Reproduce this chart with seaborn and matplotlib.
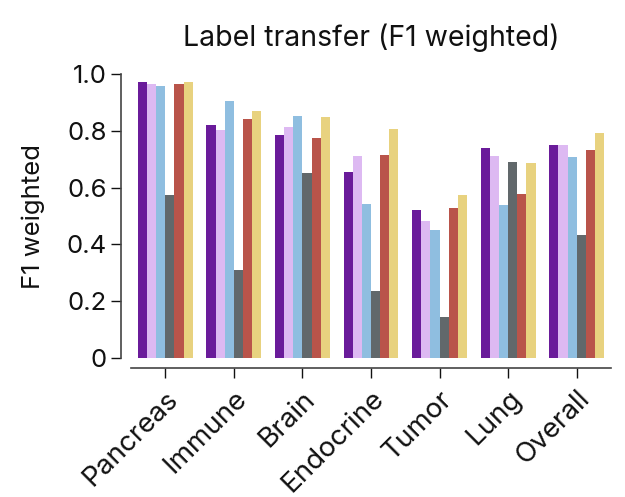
import numpy as np
import pandas as pd
import matplotlib
matplotlib.use("Agg")
import matplotlib.pyplot as plt
import seaborn as sns

tissues = ["Pancreas", "Immune", "Brain", "Endocrine", "Tumor", "Lung", "Overall"]
methods = ["m1", "m2", "m3", "m4", "m5", "m6"]

m1 = [0.973, 0.821, 0.787, 0.655, 0.522, 0.741, 0.750]
m2 = [0.966, 0.804, 0.813, 0.711, 0.482, 0.711, 0.749]
m3 = [0.957, 0.904, 0.851, 0.543, 0.452, 0.540, 0.708]
m4 = [0.573, 0.311, 0.653, 0.235, 0.144, 0.689, 0.434]
m5 = [0.965, 0.843, 0.774, 0.716, 0.530, 0.579, 0.734]
m6 = [0.971, 0.869, 0.849, 0.807, 0.575, 0.687, 0.793]

colors = ["#6A1B9A", "#DDB9F2", "#8FBEE0", "#61686B", "#B9544A", "#E8D27F"]

rows = []
for name, vals in zip(methods, [m1, m2, m3, m4, m5, m6]):
    for t, v in zip(tissues, vals):
        rows.append({"tissue": t, "method": name, "f1": v})
df = pd.DataFrame(rows)

sns.set_style("ticks")
plt.rcParams["font.family"] = ["Inter", "DejaVu Sans"]

fig = plt.figure(figsize=(6.25, 4.97), dpi=100)
ax = fig.add_axes([0.2096, 0.2797, 0.768, 0.5713])

sns.barplot(data=df, x="tissue", y="f1", hue="method", palette=colors,
            order=tissues, hue_order=methods, width=0.8, saturation=1,
            errorbar=None, legend=False, linewidth=0, ax=ax)

# offset spines first: set_position resets the ticks
for s in ["left", "bottom"]:
    ax.spines[s].set_color("#444444")
    ax.spines[s].set_linewidth(1.2)
sns.despine(ax=ax, offset={"left": 7, "bottom": 7})

ax.set_ylim(0, 1.0)
ax.set_xlim(-0.5, 6.5)
ax.tick_params(axis="both", colors="#111111", length=7, width=1)
ax.tick_params(axis="y", labelsize=18.5)
ax.tick_params(axis="x", labelsize=20, pad=6)
ax.set_yticks([0, 0.2, 0.4, 0.6, 0.8, 1.0])
ax.set_yticklabels(["0", "0.2", "0.4", "0.6", "0.8", "1.0"])
ax.set_xticks(range(len(tissues)))
ax.set_xticklabels(tissues, rotation=45, ha="right", rotation_mode="anchor")
ax.set_xlabel("")
ax.set_ylabel("F1 weighted", fontsize=18.5, color="#111111", labelpad=15.5)
ax.set_title("Label transfer (F1 weighted)", fontsize=20.5, color="#111111", pad=20)

fig.savefig("out.png", dpi=100)
